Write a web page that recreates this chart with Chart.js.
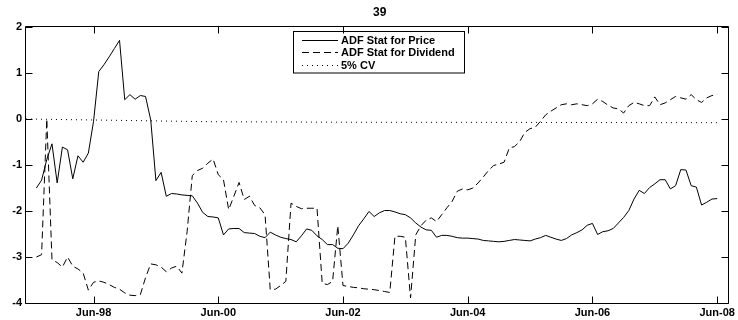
<!DOCTYPE html>
<html>
<head>
<meta charset="utf-8">
<script src="https://cdn.jsdelivr.net/npm/chart.js@4.4.1/dist/chart.umd.min.js"></script>
<style>
  html, body { margin: 0; padding: 0; background: #fff; }
  #wrap { width: 738px; height: 320px; }
</style>
</head>
<body>
<div id="wrap"><canvas id="c" width="738" height="320"></canvas></div>
<script>
// Rolling ADF statistics, monthly from Jul-97 to Jun-08
const chartTitle = '39';
const firstMonth = { year: 1997, month: 7 };

const priceAdf = [
  -1.50, -1.33, -0.88, -0.54, -1.39, -0.61, -0.67, -1.30, -0.80, -0.94, -0.74, -0.05,
   1.03,  1.18,  1.35,  1.53,  1.71,  0.42,  0.53,  0.43,  0.51,  0.49, -0.02, -1.34,
  -1.16, -1.68, -1.62, -1.63, -1.65, -1.66, -1.67, -1.83, -2.03, -2.12, -2.13, -2.15,
  -2.52, -2.39, -2.38, -2.38, -2.47, -2.48, -2.49, -2.55, -2.58, -2.46, -2.52, -2.57,
  -2.60, -2.62, -2.67, -2.54, -2.39, -2.42, -2.54, -2.62, -2.73, -2.73, -2.81, -2.82,
  -2.70, -2.52, -2.32, -2.17, -2.01, -2.12, -2.04, -1.99, -1.99, -2.02, -2.06, -2.08,
  -2.15, -2.26, -2.35, -2.41, -2.42, -2.57, -2.53, -2.53, -2.55, -2.58, -2.59, -2.59,
  -2.60, -2.61, -2.64, -2.65, -2.66, -2.67, -2.66, -2.64, -2.62, -2.63, -2.64, -2.65,
  -2.61, -2.58, -2.53, -2.57, -2.61, -2.64, -2.60, -2.52, -2.47, -2.41, -2.31, -2.27,
  -2.51, -2.45, -2.43, -2.38, -2.26, -2.14, -1.99, -1.74, -1.55, -1.62, -1.49, -1.41,
  -1.32, -1.32, -1.52, -1.45, -1.10, -1.11, -1.45, -1.48, -1.87, -1.81, -1.74, -1.73
];

const dividendAdf = [
  -3.00, -2.95,  0.00, -3.06, -3.12, -3.22, -3.00, -3.20, -3.26, -3.35, -3.72, -3.55,
  -3.52, -3.55, -3.60, -3.66, -3.70, -3.78, -3.83, -3.84, -3.82, -3.45, -3.15, -3.17,
  -3.22, -3.32, -3.24, -3.20, -3.35, -2.45, -1.23, -1.12, -1.07, -0.96, -0.87, -1.21,
  -1.32, -1.97, -1.68, -1.38, -1.75, -1.68, -1.88, -1.93, -2.08, -3.71, -3.70, -3.62,
  -3.53, -1.83, -1.90, -1.95, -1.94, -1.94, -1.94, -3.57, -3.60, -3.53, -2.32, -3.62,
  -3.64, -3.66, -3.67, -3.69, -3.70, -3.71, -3.73, -3.75, -3.77, -2.55, -2.55, -2.57,
  -3.89, -2.52, -2.32, -2.20, -2.15, -2.23, -2.08, -1.93, -1.79, -1.57, -1.52, -1.54,
  -1.50, -1.39, -1.26, -1.12, -1.01, -0.98, -0.94, -0.63, -0.60, -0.49, -0.29, -0.21,
  -0.18, -0.05,  0.09,  0.17,  0.24,  0.31,  0.33,  0.31,  0.33,  0.31,  0.29,  0.33,
   0.43,  0.38,  0.30,  0.24,  0.22,  0.13,  0.29,  0.36,  0.33,  0.29,  0.29,  0.48,
   0.31,  0.35,  0.42,  0.49,  0.46,  0.43,  0.53,  0.42,  0.36,  0.46,  0.51,  0.53
];

// 5% critical value (month offset, value)
const cvMonths = [-2, 10, 22, 34, 60, 131];
const cvValues = [0.00, -0.02, -0.04, -0.06, -0.07, -0.08];

const xTickLabels = ['Jun-98', 'Jun-00', 'Jun-02', 'Jun-04', 'Jun-06', 'Jun-08'];
const yTickValues = [2, 1, 0, -1, -2, -3, -4];
const seriesNames = ['ADF Stat for Price', 'ADF Stat for Dividend', '5% CV'];

const MONTH_NUM = { Jan: 1, Feb: 2, Mar: 3, Apr: 4, May: 5, Jun: 6, Jul: 7, Aug: 8, Sep: 9, Oct: 10, Nov: 11, Dec: 12 };
function monthOffset(label) {
  const [m, yy] = label.split('-');
  const n = parseInt(yy, 10);
  const year = n > 50 ? 1900 + n : 2000 + n;
  return (year - firstMonth.year) * 12 + (MONTH_NUM[m] - firstMonth.month);
}
const xTickValues = xTickLabels.map(monthOffset);

const FONT = '"Liberation Sans", Arial, Helvetica, sans-serif';
Chart.defaults.font.family = FONT;
Chart.defaults.font.size = 11;
Chart.defaults.font.weight = 'bold';
Chart.defaults.color = '#000';

const DASH = [7, 4];
const DOT = [1, 4];

// Axes box with inward tick marks on all four sides, plus the title
const framePlugin = {
  id: 'frame',
  afterDraw(chart) {
    const { ctx, chartArea: a, scales } = chart;
    const L = Math.round(a.left) - 0.5, R = Math.round(a.right) + 0.5;
    const T = Math.round(a.top) - 0.5, B = Math.round(a.bottom) + 0.5;
    const tl = 7;
    ctx.save();
    ctx.strokeStyle = '#000';
    ctx.lineWidth = 1;
    ctx.setLineDash([]);
    ctx.beginPath();
    ctx.rect(L, T, R - L, B - T);
    scales.x.ticks.forEach(t => {
      const px = Math.round(scales.x.getPixelForValue(t.value)) + 0.5;
      ctx.moveTo(px, B); ctx.lineTo(px, B - tl);
      ctx.moveTo(px, T); ctx.lineTo(px, T + tl);
    });
    scales.y.ticks.forEach(t => {
      const py = Math.round(scales.y.getPixelForValue(t.value)) + 0.5;
      ctx.moveTo(L, py); ctx.lineTo(L + tl, py);
      ctx.moveTo(R, py); ctx.lineTo(R - tl, py);
    });
    ctx.stroke();
    ctx.fillStyle = '#000';
    ctx.font = 'bold 12px ' + FONT;
    ctx.textAlign = 'center';
    ctx.textBaseline = 'middle';
    ctx.fillText(chartTitle, (a.left + a.right) / 2 + 3, 13);
    ctx.restore();
  }
};

// Boxed legend inside the axes, near the top centre
const legendBox = {
  id: 'legendBox',
  afterDatasetsDraw(chart) {
    const { ctx } = chart;
    const x0 = 293.5, x1 = 464.5, y0 = 31.5, rowH = 12.5;
    const y1 = y0 + 8 + rowH * chart.data.datasets.length - 4;
    const textX = 341, textRoom = 116;
    ctx.save();
    // shrink the label font until the longest label fits its room
    let size = 11;
    ctx.font = 'bold ' + size + 'px ' + FONT;
    const widest = Math.max(...chart.data.datasets.map(d => ctx.measureText(d.label).width));
    if (widest > textRoom) size = size * textRoom / widest;
    ctx.fillStyle = '#fff';
    ctx.fillRect(x0, y0, x1 - x0, y1 - y0);
    ctx.strokeStyle = '#000';
    ctx.lineWidth = 1;
    ctx.setLineDash([]);
    ctx.strokeRect(x0, y0, x1 - x0, y1 - y0);
    ctx.font = 'bold ' + size.toFixed(2) + 'px ' + FONT;
    ctx.textAlign = 'left';
    ctx.textBaseline = 'middle';
    chart.data.datasets.forEach((ds, i) => {
      const cy = Math.round(y0 + 8 + i * rowH) + 0.5;
      ctx.beginPath();
      ctx.setLineDash(ds.borderDash || []);
      ctx.strokeStyle = ds.borderColor;
      ctx.lineWidth = ds.borderWidth;
      ctx.moveTo(302, cy);
      ctx.lineTo(338, cy);
      ctx.stroke();
      ctx.fillStyle = '#000';
      ctx.fillText(ds.label, textX, cy + 0.5);
    });
    ctx.restore();
  }
};

const toPoints = arr => arr.map((v, i) => ({ x: i, y: v }));

new Chart(document.getElementById('c'), {
  type: 'line',
  data: {
    datasets: [
      { label: seriesNames[0], data: toPoints(priceAdf), borderColor: '#000', borderWidth: 1, borderDash: [] },
      { label: seriesNames[1], data: toPoints(dividendAdf), borderColor: '#000', borderWidth: 1, borderDash: DASH },
      { label: seriesNames[2], data: cvMonths.map((m, i) => ({ x: m, y: cvValues[i] })), borderColor: '#000', borderWidth: 1, borderDash: DOT }
    ]
  },
  options: {
    responsive: false,
    animation: false,
    devicePixelRatio: 1,
    layout: { padding: { top: 27, left: 0, right: 8, bottom: 0 } },
    elements: { point: { radius: 0 }, line: { tension: 0, fill: false } },
    plugins: { legend: { display: false }, title: { display: false }, tooltip: { enabled: false } },
    scales: {
      x: {
        type: 'linear',
        min: -2,
        max: 133,
        grid: { display: false, drawTicks: false },
        border: { display: false },
        afterBuildTicks: s => { s.ticks = xTickValues.map(v => ({ value: v })); },
        afterFit: s => { s.height = 17; },
        ticks: {
          autoSkip: false,
          maxRotation: 0,
          padding: 3,
          callback: v => xTickLabels[xTickValues.indexOf(v)]
        }
      },
      y: {
        min: -4,
        max: 2,
        grid: { display: false, drawTicks: false },
        border: { display: false },
        afterBuildTicks: s => { s.ticks = yTickValues.map(v => ({ value: v })); },
        afterFit: s => { s.width = 26; },
        ticks: { padding: 4, callback: v => String(v) }
      }
    }
  },
  plugins: [framePlugin, legendBox]
});
</script>
</body>
</html>
